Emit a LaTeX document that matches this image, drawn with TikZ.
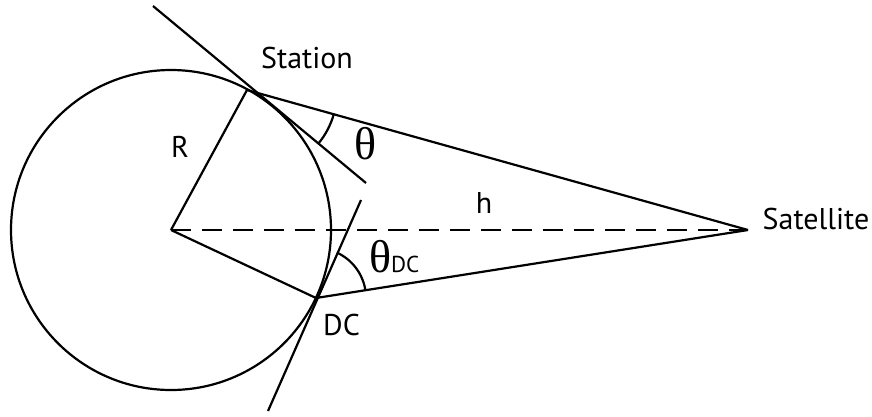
\documentclass[tikz,border=0pt]{standalone}
\usepackage{fontspec}
\setmainfont{PT Sans}
\newfontfamily\greekfont{Liberation Serif}
\usetikzlibrary{calc}

\begin{document}
\begin{tikzpicture}[
  x=1pt,y=-1pt,
  line width=2.2pt,
  lbl/.style={font=\fontsize{30}{33}\selectfont,inner sep=0pt},
  ang/.style={font=\fontsize{46}{50}\selectfont\greekfont,inner sep=0pt},
  axis/.style={dash pattern=on 20pt off 11pt}
]
  \useasboundingbox (0,0) rectangle (872,416);

  % earth and the points on it
  \coordinate (centre) at (171,230);
  \coordinate (station) at (247,90);
  \coordinate (dc) at (316,298);
  \coordinate (satellite) at (748,230);
  \draw (centre) circle[radius=160];

  % tangent lines
  \coordinate (tanA) at (153,6);
  \coordinate (tanB) at (366,183);
  \coordinate (tanC) at (361,200);
  \coordinate (tanD) at (268,411);
  \draw (tanA) -- (tanB);
  \draw (tanC) -- (tanD);

  \draw (centre) -- (station) -- (satellite);
  \draw (centre) -- (dc) -- (satellite);
  \draw[axis] (centre) -- (satellite);

  % elevation angles
  \coordinate (vertex) at (intersection of tanA--tanB and station--satellite);
  \draw ($(vertex)+(15.6:79)$) arc[start angle=15.6,end angle=39.7,radius=79];
  \draw ($(dc)+(-65.3:50)$) arc[start angle=-65.3,end angle=-8.9,radius=50];

  \node[lbl] (stationlbl) at (307,58) {Station};
  \node[lbl] (satlbl) at (816,219) {Satellite};
  \node[lbl] (rlbl) at (180,147) {R};
  \node[lbl] (hlbl) at (484,203) {h};
  \node[lbl] (dclbl) at (341.5,324.5) {DC};
  \node[ang] (theta) at (366,144) {θ};
  \node[ang,anchor=base west] (thetadc) at (368,272)
    {θ\normalfont\fontsize{23}{25}\selectfont DC};
\end{tikzpicture}
\end{document}
